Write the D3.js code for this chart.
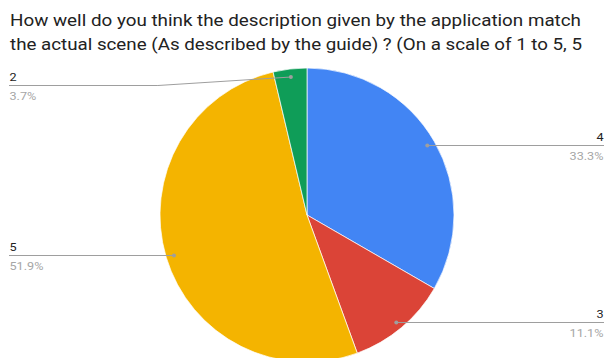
<!DOCTYPE html>
<html>
<head>
<meta charset="utf-8">
<script src="https://cdn.jsdelivr.net/npm/d3@7"></script>
<style>
  html, body { margin: 0; padding: 0; background: #fff; }
  svg { display: block; font-family: Roboto, "Noto Sans", Arial, sans-serif; }
</style>
</head>
<body>
<svg id="chart" width="606" height="358"></svg>
<script>
// Survey responses, in drawing order (clockwise from 12 o'clock)
const categories = ["4", "3", "5", "2"];
const counts = [9, 3, 14, 1];
const colors = ["#4285F4", "#DB4437", "#F4B400", "#0F9D58"];
const titleLines = [
  "How well do you think the description given by the application match",
  "the actual scene (As described by the guide) ? (On a scale of 1 to 5, 5"
];
// Which side each slice label sits on, and the y of its leader line
const labelSide = ["right", "right", "left", "left"];
const labelY = [145.5, 322.5, 255.5, 85.5];

const svg = d3.select("#chart");
const cx = 307, cy = 215, R = 147;
const textStretch = 1.15;

// Title
svg.append("g").selectAll("text")
  .data(titleLines)
  .join("text")
  .attr("x", 10)
  .attr("y", (d, i) => 26 + i * 23.5)
  .attr("font-size", 16.5)
  .attr("fill", "#222")
  .attr("textLength", (d, i) => i === 0 ? 571 : 572)
  .attr("lengthAdjust", "spacingAndGlyphs")
  .text(d => d);

const total = d3.sum(counts);
const data = categories.map((c, i) => ({ cat: c, value: counts[i], color: colors[i], side: labelSide[i], ly: labelY[i] }));

const pie = d3.pie().value(d => d.value).sort(null);
const arcs = pie(data);
const arc = d3.arc().innerRadius(0).outerRadius(R);
const dotArc = d3.arc().innerRadius(R * 0.945).outerRadius(R * 0.945);

const g = svg.append("g").attr("transform", `translate(${cx},${cy})`);
g.selectAll("path")
  .data(arcs)
  .join("path")
  .attr("d", arc)
  .attr("fill", d => d.data.color)
  .attr("stroke", "#fff")
  .attr("stroke-width", 0.7);

const fmt = d3.format(".1f");
const lab = svg.append("g");

arcs.forEach(a => {
  const [dx, dy] = dotArc.centroid(a);
  const px = cx + dx, py = cy + dy;
  const d = a.data;
  const right = d.side === "right";
  const endX = right ? 604 : 9;
  // leader line: optional bend, then horizontal run to the margin
  let pts;
  if (Math.abs(py - d.ly) > 1.5) {
    const bendX = right ? px + 130 : px - 133;
    pts = [[px, py], [bendX, d.ly], [endX, d.ly]];
  } else {
    pts = [[px, d.ly], [endX, d.ly]];
  }
  lab.append("path")
    .attr("d", d3.line()(pts))
    .attr("fill", "none")
    .attr("stroke", "#9e9e9e")
    .attr("stroke-width", 1);
  lab.append("circle")
    .attr("cx", px).attr("cy", pts[0][1])
    .attr("r", 2)
    .attr("fill", "#9e9e9e");
  const tx = right ? 603.5 : 9.5;
  const anchor = right ? "end" : "start";
  lab.append("text")
    .attr("transform", `translate(${tx},${d.ly - 5}) scale(${textStretch},1)`)
    .attr("text-anchor", anchor)
    .attr("font-size", 11)
    .attr("fill", "#222")
    .text(d.cat);
  lab.append("text")
    .attr("transform", `translate(${tx},${d.ly + 14}) scale(${textStretch},1)`)
    .attr("text-anchor", anchor)
    .attr("font-size", 11)
    .attr("fill", "#a6a6a6")
    .text(fmt(d.value / total * 100) + "%");
});
</script>
</body>
</html>
